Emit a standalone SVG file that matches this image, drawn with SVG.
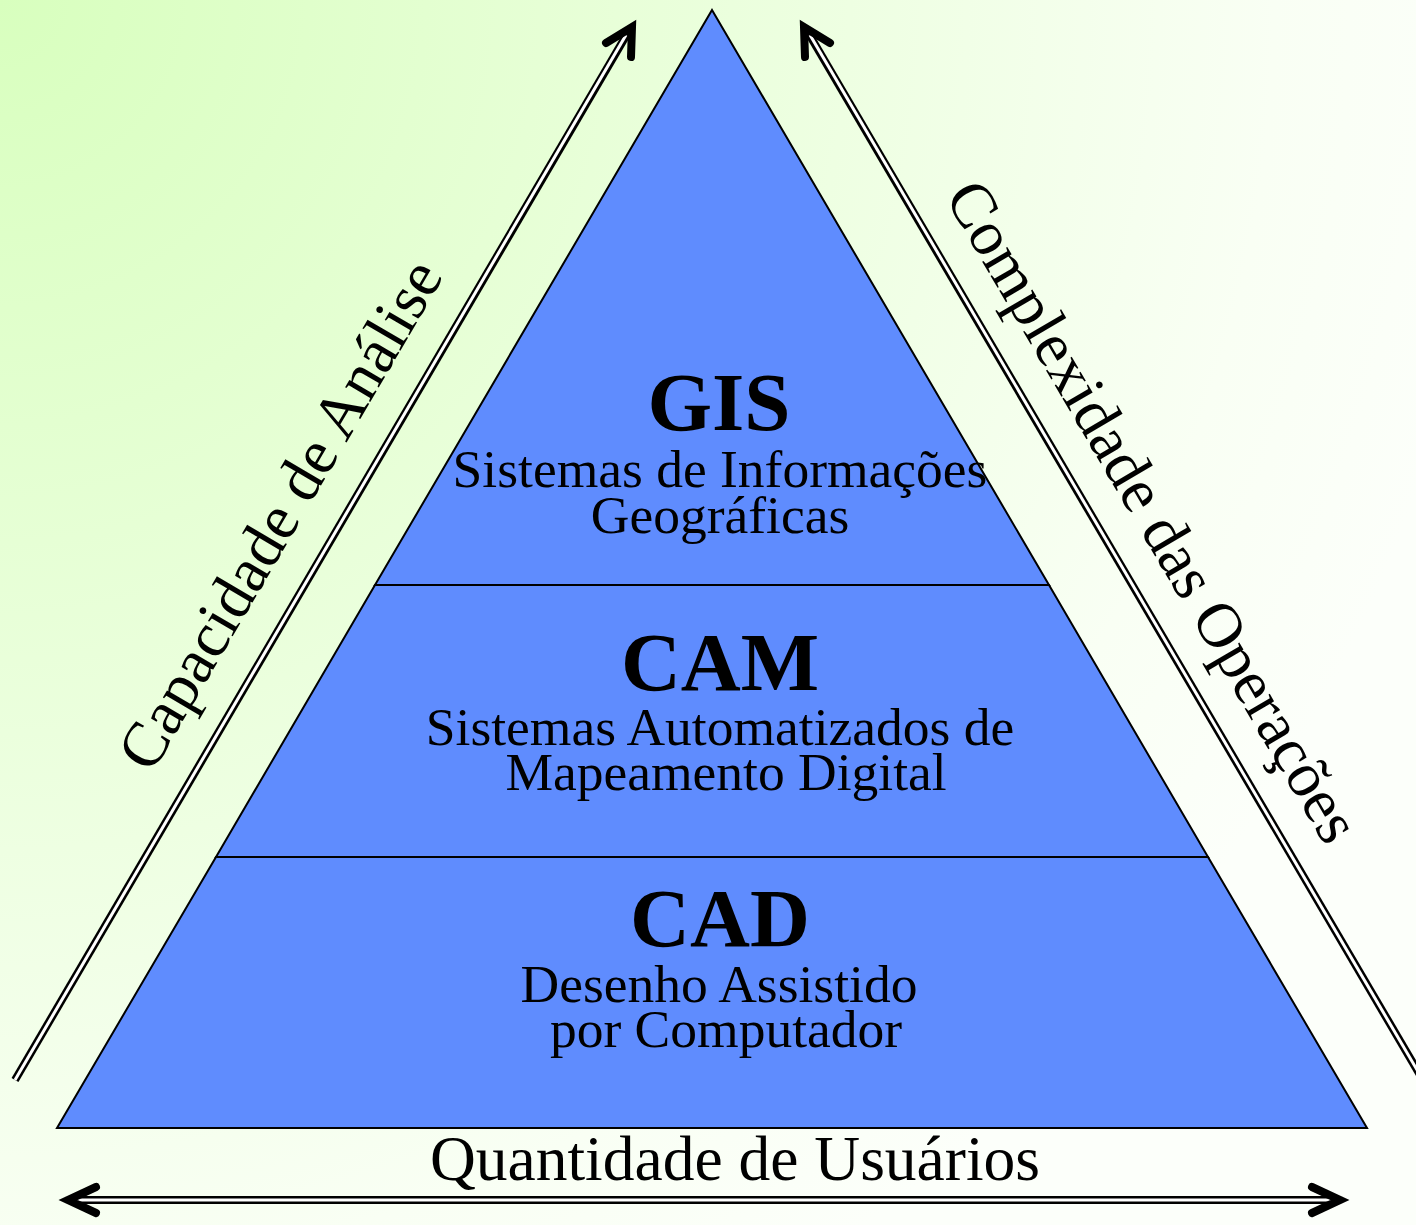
<svg xmlns="http://www.w3.org/2000/svg" width="1416" height="1225" viewBox="0 0 1416 1225">
  <defs>
    <radialGradient id="bg" gradientUnits="userSpaceOnUse" cx="0" cy="0" r="1500">
      <stop offset="0" stop-color="#d8ffbe"/>
      <stop offset="0.85" stop-color="#f9fff4"/>
      <stop offset="1" stop-color="#fcfffa"/>
    </radialGradient>
    <style>
      .tier { fill: #5f8cfe; stroke: #000; stroke-width: 2; stroke-linejoin: miter; }
      .title { font-family: "Liberation Serif", "Times New Roman", serif; font-weight: bold; font-size: 83px; text-anchor: middle; fill: #000; }
      .sub { font-family: "Liberation Serif", "Times New Roman", serif; font-size: 53.5px; text-anchor: middle; fill: #000; }
      .axis { font-family: "Liberation Serif", "Times New Roman", serif; font-size: 63.5px; text-anchor: middle; fill: #000; }
      .shaft-out { fill: none; stroke: #000; stroke-width: 8; }
      .shaft-in { fill: none; stroke: #fff; stroke-width: 3; }
      .head { fill: none; stroke: #000; stroke-width: 8; stroke-linecap: round; stroke-linejoin: miter; }
    </style>
  </defs>

  <rect x="0" y="0" width="1416" height="1225" fill="url(#bg)"/>

  <g id="tier-gis">
    <polygon class="tier" points="712,10 1049,585 375,585"/>
    <text class="title" x="719" y="430">GIS</text>
    <text class="sub" x="720" y="487">Sistemas de Informações</text>
    <text class="sub" x="720" y="533">Geográficas</text>
  </g>

  <g id="tier-cam">
    <polygon class="tier" points="375,585 1049,585 1208,857 216,857"/>
    <text class="title" x="720" y="690">CAM</text>
    <text class="sub" x="720" y="745">Sistemas Automatizados de</text>
    <text class="sub" x="726" y="790">Mapeamento Digital</text>
  </g>

  <g id="tier-cad">
    <polygon class="tier" points="216,857 1208,857 1367,1128 57,1128"/>
    <text class="title" x="720" y="946">CAD</text>
    <text class="sub" x="719" y="1002">Desenho Assistido</text>
    <text class="sub" x="726" y="1047">por Computador</text>
  </g>

  <g id="connectors">
    <g id="arrow-left">
      <line class="shaft-out" x1="15" y1="1080" x2="630" y2="29"/>
      <line class="shaft-in" x1="15" y1="1080" x2="626" y2="35"/>
      <path class="head" d="M606,43 L632,27 L631,57"/>
    </g>
    <g id="arrow-right">
      <line class="shaft-out" x1="1430" y1="1092" x2="806" y2="29"/>
      <line class="shaft-in" x1="1430" y1="1092" x2="810" y2="35"/>
      <path class="head" d="M830,43 L804,27 L805,57"/>
    </g>
    <g id="arrow-bottom">
      <line class="shaft-out" x1="70" y1="1200" x2="1338" y2="1200"/>
      <line class="shaft-in" x1="76" y1="1200" x2="1332" y2="1200"/>
      <path class="head" d="M96,1187 L68,1200 L96,1213"/>
      <path class="head" d="M1312,1187 L1340,1200 L1312,1213"/>
    </g>
  </g>

  <g id="axis-labels">
    <text class="axis" transform="translate(298,525) rotate(-59.6)">Capacidade de Análise</text>
    <text class="axis" transform="translate(1135,522) rotate(59.6)">Complexidade das Operações</text>
    <text class="axis" x="735" y="1180">Quantidade de Usuários</text>
  </g>
</svg>
